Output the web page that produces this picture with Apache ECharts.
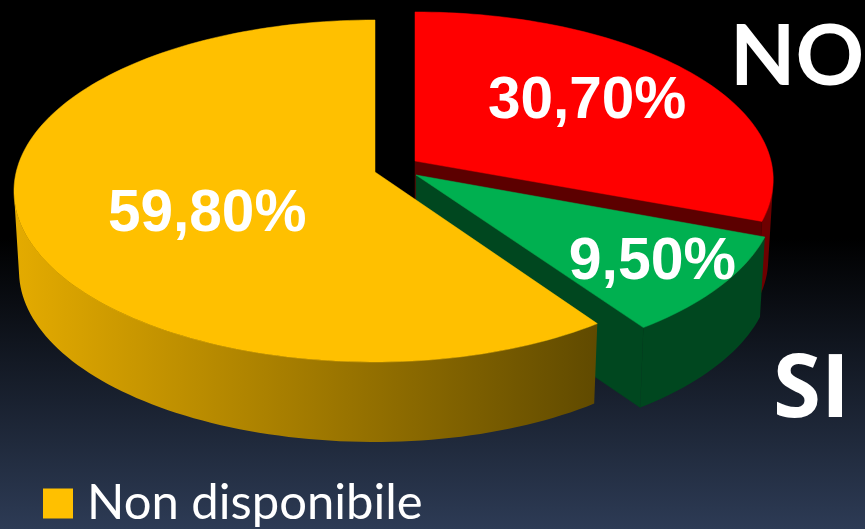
<!DOCTYPE html>
<html>
<head>
<meta charset="utf-8">
<style>html,body{margin:0;padding:0;background:#000}#c{width:865px;height:529px}</style>
<script src="https://cdn.jsdelivr.net/npm/echarts@6/dist/echarts.min.js"></script>
</head>
<body>
<div id="c"></div>
<script>
// ---- data ----
const categories = ['NO', 'SI', 'Non disponibile'];
const values = [30.7, 9.5, 59.8];
const legendItems = ['Non disponibile'];

// ---- style and projection of each slice (exploded 3D pie) ----
const topColors = ['#ff0000', '#00b050', '#ffc000'];
const wallColors = ['#5c0000', '#00471f', '#665000'];
const centers = [[415, 161], [416, 175], [375, 172]];
const radiiXLeft = [356, 360, 358.8];
const radiiXRight = [356, 358, 350];
const radiiY = [165.6, 170, 168.9];
const labelRadius = [0.6, 0.8, 0.47];
const labelShift = [[3, -5], [-3.5, 0], [-4.5, 18]];
const labelSize = [58.5, 59, 58.5];
const PERSPECTIVE = 0.111, DEPTH = 80, SHRINK = 0.014, STEP = 1.5;
const total = values.reduce((a, b) => a + b, 0);

function project(i, angle, r, z) {
  const a = angle * Math.PI / 180;
  const u = r * Math.sin(a), v = -r * Math.cos(a);
  const w = 1 - PERSPECTIVE * v;
  const rx = u > 0 ? radiiXRight[i] : radiiXLeft[i];
  return [
    centers[i][0] + rx * u / w * (1 - SHRINK * z),
    centers[i][1] + radiiY[i] * v / w + DEPTH * z
  ];
}
function arc(i, from, to, z) {
  const pts = [];
  const n = Math.max(2, Math.ceil((to - from) / STEP));
  for (let k = 0; k <= n; k++) pts.push(project(i, from + (to - from) * k / n, 1, z));
  return pts;
}
function area(p) {
  let s = 0;
  for (let k = 0; k < p.length; k++) {
    const q = p[(k + 1) % p.length];
    s += p[k][0] * q[1] - q[0] * p[k][1];
  }
  return s;
}
const sideFills = [
  '#6e0000', '#00471f',
  { type: 'linear', x: 15, y: 0, x2: 597, y2: 0, global: true,
    colorStops: [{ offset: 0, color: '#e4ab00' }, { offset: 1, color: '#604a00' }] }
];
const fmt = v => v.toFixed(2).replace('.', ',') + '%';

function renderSlice(i) {
  return function (params, api) {
    const value = api.value(0);
    let before = 0;
    for (let k = 0; k < i; k++) before += values[k];
    const from = before / total * 360, to = (before + value) / total * 360;
    const children = [];
    const poly = (points, fill, stroke) => children.push({
      type: 'polygon', shape: { points }, style: { fill, stroke: stroke || fill, lineWidth: 0.5 }
    });
    // outer side: the viewer-facing run of rim segments, extruded as one shape
    const upper = arc(i, from, to, 0), lower = arc(i, from, to, 1);
    let first = -1, last = -1;
    for (let k = 0; k + 1 < upper.length; k++) {
      if (area([upper[k], upper[k + 1], lower[k + 1], lower[k]]) < 0) {
        if (first < 0) first = k;
        last = k + 1;
      }
    }
    if (first >= 0) {
      poly(upper.slice(first, last + 1).concat(lower.slice(first, last + 1).reverse()), sideFills[i], 'none');
    }
    // cut walls, only those facing the viewer
    const wall = ang => [project(i, ang, 0, 0), project(i, ang, 1, 0), project(i, ang, 1, 1), project(i, ang, 0, 1)];
    const endWall = wall(to), startWall = wall(from);
    if (area(endWall) > 1) poly(endWall, wallColors[i]);
    if (area(startWall) < -1) poly(startWall, wallColors[i]);
    // top face
    poly([project(i, from, 0, 0)].concat(upper), topColors[i]);
    // value label
    const pos = project(i, (from + to) / 2, labelRadius[i], 0);
    children.push({
      type: 'text',
      style: {
        x: pos[0] + labelShift[i][0], y: pos[1] + labelShift[i][1],
        text: fmt(value), fill: '#ffffff', align: 'center', verticalAlign: 'middle',
        font: 'bold ' + labelSize[i] + 'px "Liberation Sans", Arial, sans-serif'
      }
    });
    return { type: 'group', children };
  };
}

const chart = echarts.init(document.getElementById('c'), null, { renderer: 'canvas' });
chart.setOption({
  animation: false,
  backgroundColor: {
    type: 'linear', x: 0, y: 0, x2: 0, y2: 1,
    colorStops: [{ offset: 0, color: '#000000' }, { offset: 0.45, color: '#000000' }, { offset: 1, color: '#2d3b55' }]
  },
  legend: {
    data: legendItems, left: 38, top: 474, itemWidth: 30, itemHeight: 30, icon: 'rect',
    textStyle: { color: '#ffffff', fontFamily: 'Lato', fontSize: 49, padding: [0, 0, 0, 9] }
  },
  series: categories.map((name, i) => ({
    type: 'custom', name, coordinateSystem: 'none', silent: true,
    itemStyle: { color: topColors[i] },
    data: [[values[i]]],
    renderItem: renderSlice(i)
  })),
  graphic: [
    { type: 'text', left: 730, top: 15, style: { text: categories[0], fill: '#fff', font: 'bold 85px Lato' } },
    { type: 'text', left: 773, top: 349, style: { text: categories[1], fill: '#fff', font: 'bold 87px "Open Sans"' } }
  ]
});
</script>
</body>
</html>
